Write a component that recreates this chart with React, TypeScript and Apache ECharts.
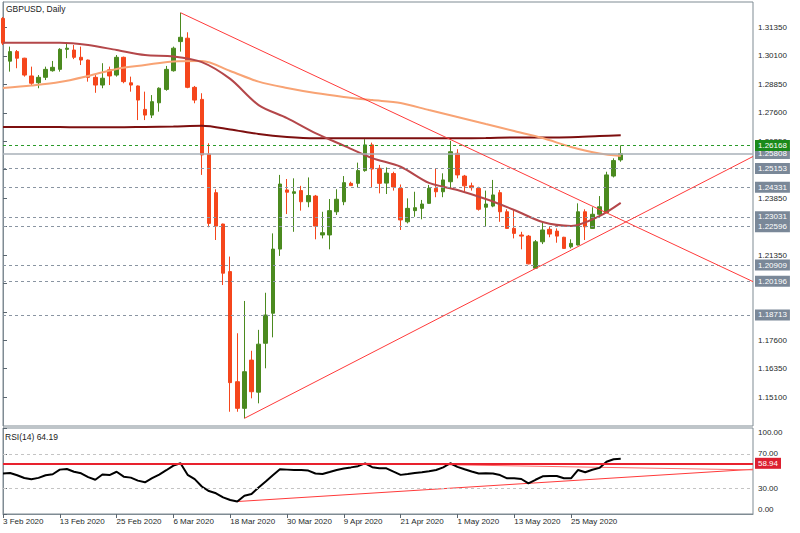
import React, { useEffect, useRef } from 'react';
import * as echarts from 'echarts';

// ---- data ----
const dateLabels = ['3 Feb 2020', '13 Feb 2020', '25 Feb 2020', '6 Mar 2020', '18 Mar 2020', '30 Mar 2020', '9 Apr 2020', '21 Apr 2020', '1 May 2020', '13 May 2020', '25 May 2020'];
const dateLabelIdx = [0, 8, 16, 24, 32, 40, 48, 56, 64, 72, 80];

const opens = [1.3175, 1.2987, 1.3029, 1.3000, 1.2922, 1.2892, 1.2916, 1.2945, 1.2951, 1.3039, 1.3036, 1.3004, 1.2992, 1.2916, 1.2882, 1.2949, 1.2926, 1.3004, 1.2892, 1.2878, 1.2775, 1.2750, 1.2804, 1.2863, 1.2945, 1.3073, 1.3088, 1.2872, 1.2819, 1.2579, 1.2409, 1.2271, 1.2062, 1.1578, 1.1461, 1.1673, 1.1532, 1.1747, 1.1879, 1.2161, 1.2421, 1.2406, 1.2418, 1.2369, 1.2394, 1.2223, 1.2223, 1.2325, 1.2369, 1.2450, 1.2450, 1.2506, 1.2619, 1.2516, 1.2451, 1.2493, 1.2428, 1.2281, 1.2330, 1.2340, 1.2362, 1.2428, 1.2413, 1.2457, 1.2582, 1.2482, 1.2439, 1.2428, 1.2345, 1.2350, 1.2409, 1.2325, 1.2252, 1.2223, 1.2218, 1.2077, 1.2193, 1.2248, 1.2240, 1.2213, 1.2171, 1.2179, 1.2325, 1.2252, 1.2314, 1.2321, 1.2482, 1.2553];
const closes = [1.3066, 1.3029, 1.3000, 1.2926, 1.2890, 1.2916, 1.2951, 1.2960, 1.3039, 1.3044, 1.3004, 1.2992, 1.2916, 1.2882, 1.2912, 1.2922, 1.3004, 1.2897, 1.2882, 1.2816, 1.2750, 1.2809, 1.2868, 1.2951, 1.3044, 1.3092, 1.2872, 1.2816, 1.2575, 1.2274, 1.2262, 1.2055, 1.1574, 1.1461, 1.1622, 1.1534, 1.1743, 1.1871, 1.2161, 1.2447, 1.2411, 1.2413, 1.2369, 1.2396, 1.2262, 1.2233, 1.2330, 1.2380, 1.2453, 1.2440, 1.2506, 1.2619, 1.2513, 1.2450, 1.2495, 1.2434, 1.2289, 1.2340, 1.2343, 1.2359, 1.2428, 1.2413, 1.2465, 1.2589, 1.2487, 1.2439, 1.2431, 1.2336, 1.2359, 1.2399, 1.2325, 1.2252, 1.2230, 1.2218, 1.2096, 1.2193, 1.2245, 1.2227, 1.2218, 1.2164, 1.2186, 1.2325, 1.2259, 1.2314, 1.2347, 1.2487, 1.2550, 1.25808];
const lows = [1.3058, 1.2941, 1.2956, 1.2919, 1.2882, 1.2868, 1.2904, 1.2941, 1.2941, 1.3000, 1.2996, 1.2970, 1.2897, 1.2848, 1.2868, 1.2882, 1.2919, 1.2890, 1.2853, 1.2728, 1.2728, 1.2737, 1.2765, 1.2857, 1.2941, 1.3029, 1.2868, 1.2802, 1.2487, 1.2257, 1.2201, 1.2003, 1.1446, 1.1446, 1.1417, 1.1505, 1.1483, 1.1637, 1.1773, 1.2131, 1.2315, 1.2237, 1.2330, 1.2345, 1.2204, 1.2208, 1.2160, 1.2311, 1.2354, 1.2439, 1.2433, 1.2501, 1.2433, 1.2406, 1.2403, 1.2418, 1.2245, 1.2274, 1.2303, 1.2292, 1.2360, 1.2389, 1.2389, 1.2428, 1.2472, 1.2413, 1.2418, 1.2330, 1.2262, 1.2345, 1.2281, 1.2250, 1.2208, 1.2160, 1.2094, 1.2075, 1.2183, 1.2213, 1.2189, 1.2162, 1.2164, 1.2177, 1.2201, 1.2250, 1.2303, 1.2319, 1.2476, 1.2545];
const highs = [1.3181, 1.3051, 1.3036, 1.3002, 1.2963, 1.2926, 1.2963, 1.2988, 1.3044, 1.3068, 1.3058, 1.3051, 1.2994, 1.2926, 1.2978, 1.2963, 1.3014, 1.3007, 1.2919, 1.2880, 1.2853, 1.2838, 1.2872, 1.2966, 1.3051, 1.3200, 1.3114, 1.2878, 1.2846, 1.2626, 1.2424, 1.2273, 1.2128, 1.1791, 1.1933, 1.1714, 1.1806, 1.1969, 1.2230, 1.2487, 1.2469, 1.2472, 1.2439, 1.2476, 1.2399, 1.2325, 1.2381, 1.2424, 1.2482, 1.2457, 1.2541, 1.2644, 1.2629, 1.2531, 1.2520, 1.2501, 1.2445, 1.2384, 1.2413, 1.2377, 1.2443, 1.2516, 1.2494, 1.2637, 1.2600, 1.2487, 1.2453, 1.2435, 1.2418, 1.2465, 1.2421, 1.2336, 1.2336, 1.2237, 1.2223, 1.2201, 1.2281, 1.2259, 1.2252, 1.2215, 1.2204, 1.2362, 1.2336, 1.2345, 1.2394, 1.2501, 1.2560, 1.26168];

const maIdx = [0, 4, 8, 12, 16, 20, 24, 28, 32, 36, 40, 44, 48, 52, 56, 60, 64, 68, 72, 76, 80, 84, 87];
const maBrown = [1.3068, 1.3068, 1.3068, 1.3058, 1.3036, 1.3014, 1.3008, 1.2983, 1.2909, 1.2794, 1.2737, 1.2671, 1.2616, 1.2561, 1.2523, 1.2452, 1.2421, 1.2381, 1.2333, 1.2280, 1.2263, 1.2306, 1.2364];
const maOrange = [1.2869, 1.2880, 1.2895, 1.2922, 1.2953, 1.2970, 1.2986, 1.2988, 1.2944, 1.2897, 1.2869, 1.2847, 1.2830, 1.2816, 1.2803, 1.2772, 1.2742, 1.2711, 1.2680, 1.2649, 1.2610, 1.2581, 1.2570];
const maMaroon = [1.2698, 1.2698, 1.2698, 1.2696, 1.2696, 1.2698, 1.2700, 1.2703, 1.2687, 1.2667, 1.2654, 1.2648, 1.2648, 1.2648, 1.2648, 1.2648, 1.2648, 1.2649, 1.2652, 1.2652, 1.2653, 1.2658, 1.2661];

const rsi = [47.0, 47.7, 45.0, 41.9, 40.5, 42.0, 45.0, 46.2, 51.6, 52.3, 49.1, 47.3, 42.9, 39.8, 45.9, 45.3, 49.1, 43.4, 42.3, 38.8, 36.9, 41.6, 45.9, 50.9, 56.2, 59.0, 45.6, 40.5, 32.0, 26.7, 24.1, 19.4, 16.3, 14.5, 21.3, 23.3, 30.9, 37.8, 45.0, 52.0, 51.6, 51.2, 51.2, 50.5, 47.1, 46.5, 48.8, 51.2, 53.0, 54.2, 55.6, 58.8, 54.4, 53.1, 53.1, 49.2, 45.5, 46.5, 47.6, 48.5, 49.7, 51.2, 54.2, 59.0, 54.8, 52.0, 49.4, 47.1, 47.3, 47.2, 45.3, 41.5, 41.5, 40.7, 35.7, 39.8, 43.8, 44.2, 44.2, 41.5, 41.5, 51.2, 48.6, 51.4, 53.6, 60.7, 63.6, 64.19];

const greyLevels = [1.25153, 1.24331, 1.23031, 1.22596, 1.20909, 1.20196, 1.18713];
const askLevel = 1.26168;
const bidLevel = 1.25808;
// scale ticks every 0.0125; the labels hidden behind price boxes in the reference are left out
const priceTicks = [1.151, 1.1635, 1.176, 1.1885, 1.201, 1.2135, 1.226, 1.2385, 1.251, 1.2635, 1.276, 1.2885, 1.301, 1.3135];
const priceTickLabels = [1.151, 1.1635, 1.176, 1.2135, 1.2385, 1.2635, 1.276, 1.2885, 1.301, 1.3135];
const rsiTicks = [0, 30, 70, 100];
const rsiLevel = 58.94;
const rsiLast = 64.19;

const X_MAX = 105.63;
const downTrend = [[25, 1.3200], [X_MAX, 1.2018]];
const upTrend = [[34, 1.1417], [X_MAX, 1.2568]];
const rsiSupport = [[33, 14.5], [X_MAX, 52.0]];
const rsiResist = [[51, 58.9], [X_MAX, 51.3]];

// ---- styling ----
const FONT = 'Liberation Sans, Arial, sans-serif';
const FRAME = '#7f8b93';
const BULL = '#4b8a1f';
const BEAR = '#f5461c';
const TREND = '#ff3a3a';
const BOX = '#7a8898';

function App() {
  const ref = useRef<HTMLDivElement>(null);
  useEffect(() => {
    const chart = echarts.init(ref.current as HTMLDivElement, null, { renderer: 'svg' });
    const candleData = opens.map((o, i) => [i, o, closes[i], lows[i], highs[i]]);
    const ma = (arr: number[]) => maIdx.map((x, i) => [x, arr[i]]);
    const boxLabel = (bg: string) => ({
      show: true,
      position: 'end',
      distance: 2,
      formatter: (p: any) => Number(p.value).toFixed(5),
      color: '#fff',
      backgroundColor: bg,
      padding: [1, 3, 1, 3],
      fontSize: 8,
      lineHeight: 9,
      fontFamily: FONT,
    });
    const priceMarks: any[] = [
      ...greyLevels.map((v) => ({ yAxis: v, lineStyle: { color: '#8a95a2', type: [3, 3], width: 1 }, label: boxLabel(BOX) })),
      { yAxis: bidLevel, lineStyle: { color: '#a9b1b9', type: 'solid', width: 1.6 }, label: boxLabel('#7d8b99') },
      { yAxis: askLevel, lineStyle: { color: '#2a9a2a', type: [3, 3], width: 1 }, label: boxLabel('#1a8a1a') },
    ];
    const option: any = {
      animation: false,
      backgroundColor: '#ffffff',
      textStyle: { fontFamily: FONT },
      grid: [
        { left: 3, right: 47, top: 2, height: 424, show: true, borderColor: FRAME, borderWidth: 1 },
        { left: 3, right: 47, top: 428, height: 86, show: true, borderColor: FRAME, borderWidth: 1 },
      ],
      xAxis: [
        { type: 'value', gridIndex: 0, min: 0, max: X_MAX, show: false },
        {
          type: 'value', gridIndex: 1, min: 0, max: X_MAX,
          axisLine: { show: true, lineStyle: { color: FRAME } },
          axisTick: { show: true, customValues: dateLabelIdx, length: 4, lineStyle: { color: '#5a6670' } },
          axisLabel: {
            show: true, customValues: dateLabelIdx,
            formatter: (v: number) => { const k = dateLabelIdx.indexOf(Math.round(v)); return k >= 0 ? dateLabels[k] : ''; },
            align: 'left', margin: 3, fontSize: 8, color: '#1e2a2a', fontFamily: FONT,
          },
          splitLine: { show: false },
        },
      ],
      yAxis: [
        {
          type: 'value', gridIndex: 0, position: 'right', min: 1.138335, max: 1.324709,
          axisLine: { show: true, lineStyle: { color: FRAME } },
          axisTick: { show: true, customValues: priceTicks, length: 4, lineStyle: { color: '#5a6670' } },
          axisLabel: { customValues: priceTickLabels, formatter: (v: number) => v.toFixed(5), fontSize: 8, color: '#1e2a2a', margin: 5, fontFamily: FONT },
          splitLine: { show: false },
        },
        {
          type: 'value', gridIndex: 1, position: 'right', min: 0, max: 100,
          axisLine: { show: true, lineStyle: { color: FRAME } },
          axisTick: { show: true, customValues: rsiTicks, length: 4, lineStyle: { color: '#5a6670' } },
          axisLabel: {
            customValues: [4.7, 30, 70, 95.3],
            formatter: (v: number) => (v < 10 ? '0.00' : v > 90 ? '100.00' : v.toFixed(2)),
            fontSize: 8, color: '#1e2a2a', margin: 5, fontFamily: FONT,
          },
          splitLine: { show: false },
        },
      ],
      graphic: [
        { type: 'text', left: 6, top: 4, z: 100, style: { text: 'GBPUSD, Daily', fontSize: 8.5, fill: '#1a1a1a', fontFamily: FONT } },
        { type: 'text', left: 5, top: 432, z: 100, style: { text: 'RSI(14) ' + rsiLast.toFixed(2), fontSize: 8.5, fill: '#1a1a1a', fontFamily: FONT } },
      ],
      series: [
        {
          type: 'line', xAxisIndex: 0, yAxisIndex: 0, data: [], clip: false, z: 1, silent: true,
          markLine: { symbol: 'none', silent: true, precision: 5, data: priceMarks },
        },
        {
          type: 'candlestick', xAxisIndex: 0, yAxisIndex: 0, data: candleData, barWidth: 4, z: 3,
          itemStyle: { color: BULL, color0: BEAR, borderColor: BULL, borderColor0: BEAR, borderWidth: 1 },
        },
        { type: 'line', xAxisIndex: 0, yAxisIndex: 0, data: ma(maMaroon), showSymbol: false, smooth: 0.3, z: 4, lineStyle: { color: '#7d0f0f', width: 2 } },
        { type: 'line', xAxisIndex: 0, yAxisIndex: 0, data: ma(maOrange), showSymbol: false, smooth: 0.3, z: 4, lineStyle: { color: '#f8a374', width: 2 } },
        { type: 'line', xAxisIndex: 0, yAxisIndex: 0, data: ma(maBrown), showSymbol: false, smooth: 0.3, z: 4, lineStyle: { color: '#b4474a', width: 2 } },
        { type: 'line', xAxisIndex: 0, yAxisIndex: 0, data: downTrend, showSymbol: false, z: 5, lineStyle: { color: TREND, width: 1 } },
        { type: 'line', xAxisIndex: 0, yAxisIndex: 0, data: upTrend, showSymbol: false, z: 5, lineStyle: { color: TREND, width: 1 } },
        {
          type: 'line', xAxisIndex: 1, yAxisIndex: 1, data: [], clip: false, z: 1, silent: true,
          markLine: {
            symbol: 'none', silent: true, precision: 2,
            data: [
              { yAxis: 70, lineStyle: { color: '#c4c4c4', type: [3, 3], width: 1 }, label: { show: false } },
              { yAxis: 30, lineStyle: { color: '#c4c4c4', type: [3, 3], width: 1 }, label: { show: false } },
              {
                yAxis: rsiLevel, lineStyle: { color: '#e8222e', type: 'solid', width: 2 },
                label: { show: true, position: 'end', distance: 2, formatter: (p: any) => Number(p.value).toFixed(2), color: '#fff', backgroundColor: '#dc1f30', padding: [1, 3, 1, 3], fontSize: 8, lineHeight: 9, fontFamily: FONT },
              },
            ],
          },
        },
        { type: 'line', xAxisIndex: 1, yAxisIndex: 1, data: rsiSupport, showSymbol: false, z: 3, lineStyle: { color: TREND, width: 1 } },
        { type: 'line', xAxisIndex: 1, yAxisIndex: 1, data: rsiResist, showSymbol: false, z: 3, lineStyle: { color: '#ff6a6a', width: 1 } },
        { type: 'line', xAxisIndex: 1, yAxisIndex: 1, data: rsi.map((v, i) => [i, v]), showSymbol: false, z: 4, lineStyle: { color: '#000000', width: 2 } },
      ],
    };
    chart.setOption(option);
    return () => chart.dispose();
  }, []);
  return <div ref={ref} style={{ position: 'absolute', left: 0, top: 0, width: 800, height: 533 }} />;
}

export default App;
